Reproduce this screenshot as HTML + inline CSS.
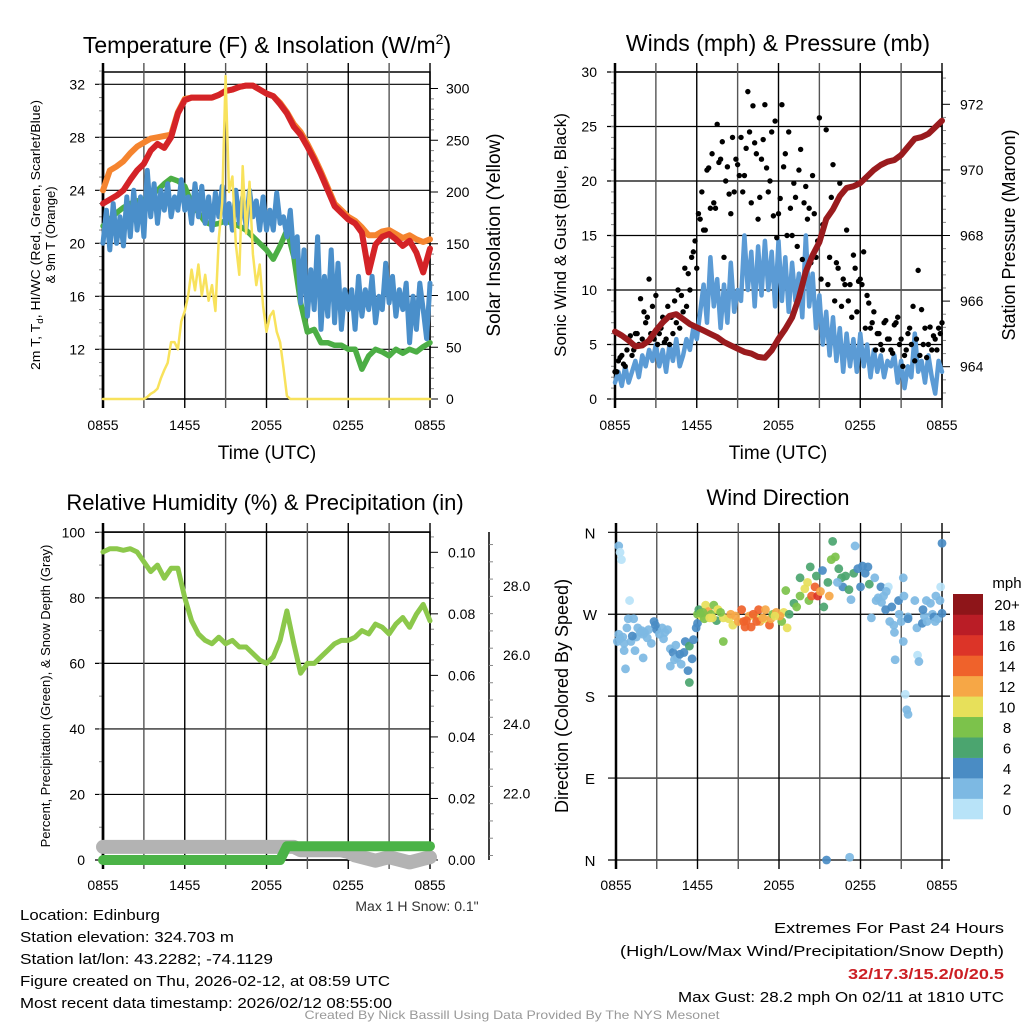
<!DOCTYPE html>
<html><head><meta charset="utf-8"><style>
html,body{margin:0;padding:0;background:#fff;width:1024px;height:1024px;overflow:hidden}
svg{display:block;font-family:"Liberation Sans",sans-serif}
</style></head><body>
<svg id="c" width="1024" height="1024" viewBox="0 0 1024 1024">
<rect width="1024" height="1024" fill="#fff"/>
</svg>
<script>
// ---------- DATA ----------
const timeLabels = ["0855","1455","2055","0255","0855"];
// temperature (F) every 30 min
const tempRed = [23,23.3,23.6,24,24.8,25.5,26,27,27.5,27.2,28,29.8,30.8,31,31,31,31,31.2,31.5,31.6,31.8,31.9,31.9,31.6,31.3,31.1,30.5,29.8,28.8,28.2,27.3,26.3,25.2,24,22.8,22.3,21.8,21.5,20.8,17.8,19.9,20.5,20.7,20.3,19.8,20.2,19.3,17.8,19.6];
const tempOrange = [24,25.5,25.8,26.2,26.8,27.3,27.6,27.9,28,28.1,28.2,29.9,30.9,31,31,31,31,31.2,31.5,31.6,31.8,31.9,31.9,31.6,31.3,31.1,30.6,29.9,29,28.4,27.5,26.5,25.4,24.2,23,22.5,22,21.7,21.2,20.6,20.6,20.9,21,20.7,20.4,20.6,20.3,20.1,20.3];
const tempGreen = [21.3,21.8,22.3,22.7,23,23.2,23.3,23.6,24,24.5,24.9,24.7,24.3,23,22.3,21.6,21.4,21.5,21.7,21.5,21.3,21,20.5,20,19.5,18.8,19.8,21,19,15.5,13.3,13.5,12.5,12.5,12.3,12.3,12,12,10.5,11.5,12,11.8,11.5,12,11.7,12,11.8,12.2,12.5];
// heat index / wind chill (F) every 15 min
const tempBlue = [20.0,22.5,19.5,23.0,20.0,22.0,19.8,23.5,20.5,24.0,21.0,23.5,20.5,25.5,22.0,24.5,21.5,24.0,22.5,24.5,22.0,23.5,22.5,24.8,22.5,
23.5,21.5,24.5,22.0,24.3,21.5,23.5,21.0,23.8,22.0,24.3,21.5,23.0,21.0,24.0,21.5,23.5,21.2,24.0,22.0,23.2,21.0,23.5,21.0,
22.5,21.0,23.8,21.5,22.0,20.5,22.5,19.0,20.5,15.5,19.5,14.5,18.0,15.0,20.5,13.5,17.5,14.5,19.5,14.0,18.5,13.5,16.5,15.0,
16.5,13.5,17.5,14.5,16.5,15.0,17.5,14.0,16.0,15.0,18.5,15.5,17.5,14.5,16.5,15.0,17.0,12.5,16.0,13.5,17.0,15.0,12.8,17.0];
// solar insolation (W/m2) every 15 min
const solar = [0,0,0,0,0,0,0,0,0,0,0,0,0,2,5,7,10,20,28,35,55,55,48,75,85,100,125,105,130,100,120,95,110,85,155,190,312,200,215,150,120,225,160,210,140,110,130,90,65,80,85,65,55,30,3,
0,0,0,0,0,0,0,0,0,0,0,0,0,0,0,0,0,0,0,0,0,0,0,0,0,0,0,0,0,0,0,0,0,0,0,0,0,0,0,0,0,0];
// sonic wind (mph) every 15 min
const windSpeed = [1.5,2.5,1.2,3.0,1.5,2.5,3.5,2.0,4.0,3.0,4.5,3.5,5.0,3.0,4.5,2.5,5.0,3.5,5.5,3.0,4.0,5.5,4.5,6.5,5.5,
8.0,10.5,7.0,13.0,8.5,11.0,6.5,10.5,7.0,12.5,8.0,10.0,9.0,15.0,10.0,13.5,8.5,14.0,9.5,14.5,10.0,13.5,8.5,14.5,
9.0,13.0,8.0,12.5,9.0,11.5,7.5,15.0,8.5,11.5,6.5,9.5,5.0,8.0,4.0,7.5,3.5,6.5,2.5,6.0,3.0,5.5,2.5,6.0,
3.0,5.0,2.0,4.5,2.5,4.0,2.0,3.5,3.0,4.0,1.5,3.5,1.0,3.0,2.0,6.0,2.5,3.5,1.5,4.0,2.0,0.5,3.5,2.5];
// gusts (mph)
const gustA = [2.5,3.5,4.0,3.0,5.5,4.0,6.0,5.0,5.5,7.0,11.0,8.5,9.5,6.0,7.5,5.5,5.0,6.0,7.0,6.5,8.0,8.5,10.0,13.5,12.0,
16.5,15.5,21.0,17.5,18.0,25.2,22.0,13.0,21.3,17.0,19.0,21.5,24.0,20.5,28.2,18.0,23.5,16.5,22.0,27.0,19.0,24.5,25.5,17.0,
27.0,22.5,24.5,15.0,18.5,21.0,12.8,19.5,17.5,20.5,13.0,25.8,16.0,24.7,13.0,21.5,12.5,19.8,11.0,15.5,10.5,13.2,8.0,11.0,
13.5,9.5,6.5,8.0,6.0,5.0,7.0,5.5,4.5,6.8,7.5,5.5,4.0,6.0,5.0,3.5,11.8,8.2,6.5,5.0,4.5,5.5,6.5,7.0];
const gustB = [2.5,3.8,3.2,4.5,5.8,4.5,6.0,9.2,8.0,7.5,6.0,5.5,5.0,6.5,5.2,8.5,7.5,9.0,10.0,9.5,12.0,11.5,13.0,14.5,
17.0,19.0,15.5,21.2,22.5,17.5,21.7,23.6,20.0,18.8,24.0,22.0,20.5,19.0,23.0,24.5,26.9,22.5,18.5,23.8,21.2,20.0,16.8,14.8,
18.4,21.3,15.0,17.5,19.8,14.0,22.9,18.0,16.5,12.5,17.0,14.5,11.0,16.0,10.5,18.5,9.0,12.0,8.5,10.5,9.0,7.5,12.0,10.8,
10.5,6.5,8.8,7.0,4.5,6.0,4.5,7.2,5.5,4.2,7.0,5.0,3.0,4.5,6.5,8.5,5.5,4.0,5.0,3.8,6.6,5.8,4.5,6.0];
// station pressure (mb) every 30 min
const pressure = [965.07,964.95,964.8,964.62,964.65,964.8,965.1,965.35,965.55,965.6,965.45,965.3,965.2,965.1,965.0,964.9,964.75,964.65,964.55,964.45,964.4,964.3,964.27,964.5,964.85,965.15,965.5,966.1,966.9,967.4,967.8,968.5,968.8,969.2,969.45,969.5,969.6,969.8,970.0,970.15,970.25,970.3,970.45,970.7,970.95,971.0,971.1,971.3,971.5];
// relative humidity (%) every 30 min
const rh = [94,95,95,94.5,95,94,91,88,90,86,89,89,80,73,69,67,66,68,66,67,65,65,63,61,60,62,67,76,66,57,60,60,62,64,66,67,67,68,70,69,72,71,69,72,74,71,75,78,73];
// precipitation (in) every 30 min
const precip = [0,0,0,0,0,0,0,0,0,0,0,0,0,0,0,0,0,0,0,0,0,0,0,0,0,0,0,0.0045,0.0045,0.0045,0.0045,0.0045,0.0045,0.0045,0.0045,0.0045,0.0045,0.0045,0.0045,0.0045,0.0045,0.0045,0.0045,0.0045,0.0045,0.0045,0.0045,0.0045,0.0045];
// snow depth (in) every 30 min
const snow = [20.45,20.45,20.45,20.45,20.45,20.45,20.45,20.45,20.45,20.45,20.45,20.45,20.45,20.45,20.45,20.45,20.45,20.45,20.45,20.45,20.45,20.45,20.45,20.45,20.45,20.45,20.45,20.45,20.45,20.35,20.35,20.35,20.35,20.35,20.35,20.35,20.3,20.2,20.15,20.1,20.05,20.1,20.15,20.1,20.05,20.0,20.05,20.1,20.15];
// wind direction scatter: hours after 0855, degrees, speed (mph)
const dirTime = [0.1,0.2,0.3,0.4,0.3,0.5,0.6,0.7,0.8,1.0,0.9,1.1,1.3,1.5,1.6,1.4,1.8,2.0,2.0,2.1,2.4,2.6,2.8,3.0,3.2,3.4,3.5,3.8,4.0,4.0,4.2,4.3,4.5,4.8,5.0,5.1,5.3,5.4,5.4,5.6,5.7,5.9,6.0,6.0,6.1,6.3,6.5,6.6,6.8,7.0,7.2,7.4,7.5,7.9,7.9,8.3,8.6,9.0,9.25,9.4,9.5,9.8,9.95,10.2,10.5,10.6,10.9,11.0,11.3,11.4,11.55,11.8,12.2,12.35,12.6,12.75,13.1,13.55,13.55,13.9,14.1,14.2,14.4,14.65,14.85,14.75,15.05,15.3,15.6,15.7,15.85,15.95,16.15,16.4,16.6,16.7,16.9,17.15,17.5,17.6,17.8,18.0,18.15,18.35,18.55,18.65,19.05,19.15,19.3,19.5,19.55,19.7,19.85,20.05,20.15,20.3,20.45,20.5,20.55,20.8,20.85,21.0,21.15,21.15,21.2,21.5,21.5,21.3,21.4,21.5,22.15,22.2,22.3,22.55,22.7,22.85,22.9,23.15,23.3,23.4,23.55,23.7,23.85,23.9,24.0,24.0,15.5,17.2,13.3,7.5,8.45,10.35,12.05,6.4,7.1,
0.2,0.6,1.2,1.9,2.3,2.9,3.6,4.4,4.7,6.2,6.9,7.7,8.8,9.6,10.1,10.8,11.7,12.5,14.3,15.2,16.3,17.3,18.8,19.9,22.0,22.6,23.5];
const dirDeg = [240,345,338,330,243,245,230,210,255,285,265,240,265,245,255,230,250,248,222,250,253,238,262,253,248,255,243,253,232,213,228,220,222,215,228,240,208,235,195,221,242,255,260,270,275,268,265,280,273,270,280,263,275,266,240,265,258,262,275,262,256,268,256,268,275,262,265,275,258,265,270,272,262,272,255,270,282,290,310,298,305,285,290,300,290,312,295,278,305,290,330,350,333,320,310,300,312,297,315,345,320,300,323,315,322,303,310,285,288,300,283,290,275,300,262,278,258,250,220,285,270,262,240,310,290,267,265,182,165,160,255,225,218,260,268,285,262,282,270,267,290,265,285,300,348,271,0,3,278,275,270,262,268,272,266,
248,238,246,252,244,258,250,236,226,271,266,272,268,263,270,266,268,296,322,318,305,286,266,295,285,275,262];
const dirSpd = [2,3,1,1,2,2,2,2,2,1,2,2,2,3,2,2,3,2,2,3,3,3,4,4,3,2,3,2,2,2,4,2,3,3,4,4,4,6,6,4,4,4,5,9,7,10,8,10,13,8,8,6,10,10,8,10,10,12,14,14,15,12,14,10,14,12,10,12,14,12,9,12,8,10,10,6,6,8,6,10,11,8,14,14,16,6,12,7,7,12,8,6,9,7,6,4,6,6,7,3,5,5,4,4,5,6,3,3,3,4,2,3,4,1,2,4,2,2,2,4,2,3,2,2,3,3,4,1,2,2,2,1,2,4,2,2,2,3,2,4,2,3,2,1,4,4,4,3,8,11,12,15,13,9,11,
2,3,4,2,3,4,2,3,4,8,10,9,13,14,15,12,11,9,6,4,3,2,3,2,2,4,2];
const cbLabels = ["0","2","4","6","8","10","12","14","16","18","20+"];
const cbColors = ["#b8e3f8","#7db9e3","#4a8cc4","#4ba56f","#7cc24b","#e7e05a","#f6a746","#ef622b","#dc3428","#ba1d26","#8e1519"];

// ---------- DRAW ----------
const NS="http://www.w3.org/2000/svg";
const svg=document.getElementById('c');
function mk(tag,attrs,parent){const e=document.createElementNS(NS,tag);for(const k in attrs)e.setAttribute(k,attrs[k]);(parent||svg).appendChild(e);return e;}
function txt(s,x,y,size,anchor,parent,extra){const t=mk('text',Object.assign({x:x,y:y,'font-size':size,'text-anchor':anchor||'start',fill:'#000'},extra||{}),parent);t.textContent=s;return t;}
function grp(name){const g=mk('g',{});return g;}
function polyline(vals,xf,yf,color,w,name,parent){
  const n=vals.length;let d='';
  vals.forEach((v,i)=>{d+=(i?'L':'M')+xf(i*24/(n-1)).toFixed(1)+','+yf(v).toFixed(1);});
  const p=mk('path',{d:d,fill:'none',stroke:color,'stroke-width':w,'stroke-linejoin':'round','stroke-linecap':'round'},parent);
  
  
  return p;
}
function timeAxis(g,x0,x1,yTop,yBot,labY){
  const xf=t=>x0+t/24*(x1-x0);
  for(let h=0;h<=24;h+=3){
    mk('line',{x1:xf(h),x2:xf(h),y1:yTop-9,y2:yBot+9,stroke:(h%6==0?'#000':'#555'),'stroke-width':(h==0?2.5:1.4)},g);
  }
  timeLabels.forEach((s,i)=>{const t=txt(s,xf(i*6),labY,14,'middle',g);});
  return xf;
}

// ===== Panel 1: Temperature =====
(function(){
  const g=grp('temperature-panel');
  const x0=103,x1=430,yT=72,yB=399;
  const yTf=v=>349.3-(v-12)*13.25, ySf=v=>399-v*1.035;
  mk('rect',{x:x0,y:yT,width:x1-x0,height:yB-yT,fill:'none',stroke:'#000','stroke-width':1.5},g);
  [12,16,20,24,28,32].forEach(v=>{mk('line',{x1:x0-8,x2:x1,y1:yTf(v),y2:yTf(v),stroke:'#000','stroke-width':1.2},g);const t=txt(String(v),85,yTf(v)+5,14,'end',g);});
  for(let v=9;v<=33;v++){mk('line',{x1:x0-4,x2:x0,y1:yTf(v),y2:yTf(v),stroke:'#888','stroke-width':1},g);}
  for(let v=0;v<=300;v+=10){mk('line',{x1:x1,x2:x1+(v%50==0?8:4),y1:ySf(v),y2:ySf(v),stroke:(v%50==0?'#000':'#888'),'stroke-width':1},g);}
  [0,50,100,150,200,250,300].forEach(v=>{const t=txt(String(v),446,ySf(v)+5,14,'start',g);});
  const xf=timeAxis(g,x0,x1,yT,yB,430);
  mk('line',{x1:x0,x2:x0,y1:yT,y2:yB,stroke:'#000','stroke-width':2.5},g);
  polyline(tempOrange,xf,yTf,'#f5842f',6,'series-9m-temp-orange',g);
  polyline(tempRed,xf,yTf,'#d42327',6,'series-2m-temp-red',g);
  polyline(tempGreen,xf,yTf,'#4cae45',5.5,'series-dewpoint-green',g);
  polyline(tempBlue,xf,yTf,'#4a8fca',5,'series-hiwc-blue',g);
  polyline(solar,xf,ySf,'#f8e25c',2.5,'series-solar-yellow',g);
  const tt=mk('text',{x:267,y:53,'font-size':23,'text-anchor':'middle'},g);
  tt.innerHTML='Temperature (F) &amp; Insolation (W/m<tspan dy="-9" font-size="14">2</tspan><tspan dy="9">)</tspan>';
  
  const xt=txt('Time (UTC)',267,459,19,'middle',g);
  const yl=mk('text',{transform:'translate(40,235) rotate(-90)','font-size':13,'text-anchor':'middle',textLength:270,lengthAdjust:'spacingAndGlyphs'},g);
  yl.innerHTML='2m T, T<tspan dy="3" font-size="9">d</tspan><tspan dy="-3">, HI/WC (Red, Green, Scarlet/Blue)</tspan>';
  
  const yl2=mk('text',{transform:'translate(55,235) rotate(-90)','font-size':13,'text-anchor':'middle'},g);yl2.textContent='& 9m T (Orange)';
  
  const yr=mk('text',{transform:'translate(500,235) rotate(-90)','font-size':19,'text-anchor':'middle'},g);yr.textContent='Solar Insolation (Yellow)';
  
})();

// ===== Panel 2: Winds =====
(function(){
  const g=grp('winds-panel');
  const x0=615,x1=942,yT=72,yB=399;
  const yWf=v=>399-v*10.9, yPf=v=>366.7-(v-964)*32.8;
  mk('rect',{x:x0,y:yT,width:x1-x0,height:yB-yT,fill:'none',stroke:'#000','stroke-width':1.5},g);
  [0,5,10,15,20,25,30].forEach(v=>{mk('line',{x1:x0-8,x2:x1,y1:yWf(v),y2:yWf(v),stroke:'#000','stroke-width':1.2},g);const t=txt(String(v),597,yWf(v)+5,14,'end',g);});
  for(let v=0;v<=30;v++){mk('line',{x1:x0-4,x2:x0,y1:yWf(v),y2:yWf(v),stroke:'#888','stroke-width':1},g);}
  for(let v=963.2;v<=973;v+=0.4){const major=Math.abs(v-Math.round(v))<0.01&&Math.round(v)%2==0;mk('line',{x1:x1,x2:x1+(major?8:4),y1:yPf(v),y2:yPf(v),stroke:major?'#000':'#888','stroke-width':1},g);}
  [964,966,968,970,972].forEach(v=>{const t=txt(String(v),960,yPf(v)+5,14,'start',g);});
  const xf=timeAxis(g,x0,x1,yT,yB,430);
  polyline(windSpeed,xf,yWf,'#5b9bd5',4.5,'series-sonic-wind-blue',g);
  gustA.forEach((v,i)=>{const c=mk('circle',{cx:xf(i*24/(gustA.length-1)),cy:yWf(v),r:2.7,fill:'#000'},g);});
  gustB.forEach((v,i)=>{const c=mk('circle',{cx:xf((i+0.5)*24/gustB.length),cy:yWf(v),r:2.7,fill:'#000'},g);});
  polyline(pressure,xf,yPf,'#9a1b1e',6,'series-pressure-maroon',g);
  const tt=txt('Winds (mph) & Pressure (mb)',778,51,23,'middle',g);
  const xt=txt('Time (UTC)',778,459,19,'middle',g);
  const yl=mk('text',{transform:'translate(566,235) rotate(-90)','font-size':17,'text-anchor':'middle'},g);yl.textContent='Sonic Wind & Gust (Blue, Black)';
  
  const yr=mk('text',{transform:'translate(1015,235) rotate(-90)','font-size':18,'text-anchor':'middle'},g);yr.textContent='Station Pressure (Maroon)';
  
})();

// ===== Panel 3: RH =====
(function(){
  const g=grp('humidity-panel');
  const x0=103,x1=430,yT=532,yB=860;
  const yRf=v=>860-v*3.277, yPr=v=>860-v*3077, ySn=v=>793.3-(v-22)*34.55;
  mk('rect',{x:x0,y:yT,width:x1-x0,height:yB-yT,fill:'none',stroke:'#000','stroke-width':1.5},g);
  [0,20,40,60,80,100].forEach(v=>{mk('line',{x1:x0-8,x2:x1,y1:yRf(v),y2:yRf(v),stroke:'#000','stroke-width':1.2},g);const t=txt(String(v),85,yRf(v)+5,14,'end',g);});
  for(let v=0;v<=100;v+=10){mk('line',{x1:x0-4,x2:x0,y1:yRf(v),y2:yRf(v),stroke:'#888','stroke-width':1},g);}
  for(let v=0;v<=0.106;v+=0.005){const major=Math.round(v*1000)%20==0;mk('line',{x1:x1,x2:x1+(major?8:4),y1:yPr(v),y2:yPr(v),stroke:major?'#000':'#888','stroke-width':1},g);}
  ["0.00","0.02","0.04","0.06","0.08","0.10"].forEach(s=>{const t=txt(s,448,yPr(+s)+5,14,'start',g);});
  mk('line',{x1:489,x2:489,y1:532,y2:860,stroke:'#000','stroke-width':1.5},g);
  for(let v=20.2;v<=29.3;v+=0.5){const major=Math.abs(v-Math.round(v))<0.01&&Math.round(v)%2==0;mk('line',{x1:489,x2:489+(major?8:4),y1:ySn(v),y2:ySn(v),stroke:major?'#000':'#888','stroke-width':1},g);}
  ["22.0","24.0","26.0","28.0"].forEach(s=>{const t=txt(s,503,ySn(+s)+5,14,'start',g);});
  const xf=timeAxis(g,x0,x1,yT,yB,890);
  mk('line',{x1:x0,x2:x0,y1:yT,y2:yB,stroke:'#000','stroke-width':2.5},g);
  polyline(snow,xf,ySn,'#b3b3b3',14,'series-snow-depth-gray',g);
  polyline(precip,xf,yPr,'#4bb347',10,'series-precip-green',g);
  polyline(rh,xf,yRf,'#8cc84b',5,'series-rh-green',g);
  const tt=txt('Relative Humidity (%) & Precipitation (in)',265,510,22,'middle',g);
  const yl=mk('text',{transform:'translate(50,696) rotate(-90)','font-size':13,'text-anchor':'middle'},g);yl.textContent='Percent, Precipitation (Green), & Snow Depth (Gray)';
  
  const ms=txt('Max 1 H Snow: 0.1"',417,911,14,'middle',g,{fill:'#333'});
})();

// ===== Panel 4: Wind Direction =====
(function(){
  const g=grp('wind-direction-panel');
  const x0=616,x1=942,yT=532,yB=860;
  const yDf=v=>860-v*0.9103;
  [[0,'N'],[90,'E'],[180,'S'],[270,'W'],[360,'N']].forEach(a=>{mk('line',{x1:x0-8,x2:x1+8,y1:yDf(a[0]),y2:yDf(a[0]),stroke:'#000','stroke-width':1.2},g);const t=txt(a[1],590,yDf(a[0])+6,15,'middle',g);});
  const xf=timeAxis(g,x0,x1,yT,yB,890);
  dirTime.forEach((t,i)=>{const b=Math.min(10,Math.floor(dirSpd[i]/2));const c=mk('circle',{cx:xf(t),cy:yDf(dirDeg[i]),r:4.4,fill:cbColors[b],'fill-opacity':0.92},g);});
  const tt=txt('Wind Direction',778,505,22,'middle',g);
  const yl=mk('text',{transform:'translate(568,696) rotate(-90)','font-size':18,'text-anchor':'middle'},g);yl.textContent='Direction (Colored By Speed)';
  
  const cb=grp('speed-colorbar');
  const bh=(819-594)/11;
  cbColors.forEach((c,i)=>{const r=mk('rect',{x:953,y:819-(i+1)*bh,width:30,height:bh+0.3,fill:c},cb);
    const t=txt(cbLabels[i],1007,819-i*bh-bh/2+6,15,'middle',cb);});
  const u=txt('mph',1007,588,15,'middle',cb);
})();

// ===== Footer text =====
(function(){
  const g=grp('station-info');
  const lines=[['Location: Edinburg',920,140],['Station elevation: 324.703 m',942,214],['Station lat/lon: 43.2282; -74.1129',964,253],['Figure created on Thu, 2026-02-12, at 08:59 UTC',986,370],['Most recent data timestamp: 2026/02/12 08:55:00',1008,372]];
  lines.forEach(l=>{const t=txt(l[0],20,l[1],15,'start',g,{textLength:l[2],lengthAdjust:'spacingAndGlyphs'});});
  const r=grp('extremes-info');
  const rl=[['Extremes For Past 24 Hours',933,230,'#000','normal'],['(High/Low/Max Wind/Precipitation/Snow Depth)',956,384,'#000','normal'],['32/17.3/15.2/0/20.5',979,156,'#cc1f24','bold'],['Max Gust: 28.2 mph On 02/11 at 1810 UTC',1002,326,'#000','normal']];
  rl.forEach(l=>{const t=txt(l[0],1004,l[1],15,'end',r,{textLength:l[2],lengthAdjust:'spacingAndGlyphs',fill:l[3],'font-weight':l[4]});});
  const f=txt('Created By Nick Bassill Using Data Provided By The NYS Mesonet',512,1019,12,'middle',svg,{fill:'#999',textLength:415,lengthAdjust:'spacingAndGlyphs'});
  
})();
</script>
</body></html>
